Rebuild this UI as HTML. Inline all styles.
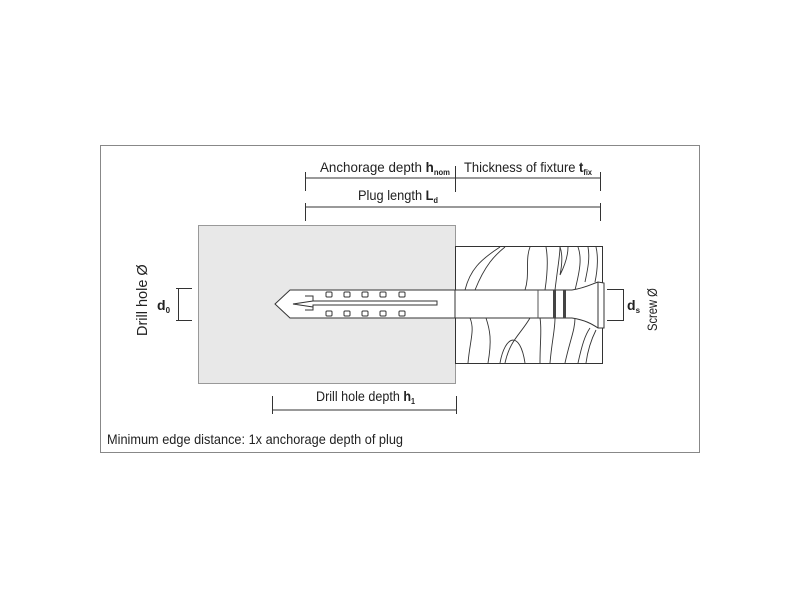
<!DOCTYPE html>
<html><head><style>
body{margin:0;background:#fff;width:800px;height:600px;overflow:hidden}
text{font-family:"Liberation Sans",sans-serif;fill:#222}
</style></head><body>
<svg width="800" height="600" viewBox="0 0 800 600" xmlns="http://www.w3.org/2000/svg">
<rect x="100.5" y="145.5" width="599" height="307" fill="#fff" stroke="#888" stroke-width="1"/>
<rect x="198.5" y="225.5" width="257" height="158" fill="#e8e8e8" stroke="#999"/>
<rect x="455.5" y="246.5" width="147" height="117" fill="#fff" stroke="#333"/>
<g fill="none" stroke="#333" stroke-width="0.9">
<path d="M465 290 C470 270 480 260 500 247"/>
<path d="M475 290 C485 265 495 255 505 247"/>
<path d="M525 290 C530 275 525 260 530 247"/>
<path d="M545 290 C548 270 548 258 546 247"/>
<path d="M555 290 C558 265 560 255 560 247"/>
<path d="M560 275 C562 265 563 255 560 247 M560 275 C565 265 568 255 568 247"/>
<path d="M575 290 C580 270 582 258 578 247"/>
<path d="M585 282 C588 268 590 258 588 247"/>
<path d="M595 282 C598 268 598 255 596 247"/>
<path d="M468 363 C470 340 475 330 470 318"/>
<path d="M488 363 C492 340 490 330 486 318"/>
<path d="M500 363 C505 335 520 330 525 363"/>
<path d="M505 363 C510 340 520 335 530 318"/>
<path d="M540 363 C540 340 542 330 540 318"/>
<path d="M550 363 C552 340 555 330 555 318"/>
<path d="M565 363 C570 340 575 330 575 318"/>
<path d="M578 363 C582 345 585 335 590 328"/>
<path d="M586 363 C588 348 592 338 596 330"/>
</g>
<path d="M455 290 L318 290 L305 290 L290 290 L275 304 L290 318 L455 318" fill="#fff" stroke="#333" stroke-width="1"/>
<rect x="455" y="290" width="143" height="28" fill="#fff" stroke="#333"/>
<line x1="538" y1="290" x2="538" y2="318" stroke="#555"/>
<rect x="553" y="290" width="3" height="28" fill="#444"/>
<rect x="563" y="290" width="3" height="28" fill="#444"/>
<path d="M572 290 C585 288 592 284 598 282 L604 283 L604 328 L598 328 C592 324 585 320 572 318" fill="#fff" stroke="#333"/>
<line x1="598" y1="282" x2="598" y2="328" stroke="#333"/>
<path d="M305 296 L313 296 L313 301 L437 301 L437 305 L313 305 L313 310 L305 310 M313 301 L293 304 L313 307" fill="none" stroke="#333"/>
<g fill="#fff" stroke="#333">
<rect x="326" y="292" width="6" height="5" rx="1"/><rect x="344" y="292" width="6" height="5" rx="1"/><rect x="362" y="292" width="6" height="5" rx="1"/><rect x="380" y="292" width="6" height="5" rx="1"/><rect x="399" y="292" width="6" height="5" rx="1"/>
<rect x="326" y="311" width="6" height="5" rx="1"/><rect x="344" y="311" width="6" height="5" rx="1"/><rect x="362" y="311" width="6" height="5" rx="1"/><rect x="380" y="311" width="6" height="5" rx="1"/><rect x="399" y="311" width="6" height="5" rx="1"/>
</g>
<g stroke="#333" stroke-width="1" fill="none">
<line x1="305" y1="178" x2="600" y2="178"/><line x1="305.5" y1="172" x2="305.5" y2="191"/><line x1="455.5" y1="166" x2="455.5" y2="192"/><line x1="600.5" y1="172" x2="600.5" y2="191"/>
<line x1="305" y1="207" x2="600" y2="207"/><line x1="305.5" y1="203" x2="305.5" y2="221"/><line x1="600.5" y1="203" x2="600.5" y2="221"/>
<line x1="272" y1="410" x2="456" y2="410"/><line x1="272.5" y1="396" x2="272.5" y2="414"/><line x1="456.5" y1="396" x2="456.5" y2="414"/>
<line x1="176" y1="288.5" x2="192" y2="288.5"/><line x1="176" y1="320.5" x2="192" y2="320.5"/><line x1="178.5" y1="288" x2="178.5" y2="320"/>
<line x1="607" y1="289.5" x2="624" y2="289.5"/><line x1="607" y1="320.5" x2="624" y2="320.5"/><line x1="623.5" y1="289" x2="623.5" y2="320"/>
</g>
<text x="320" y="172" font-size="14" textLength="130" lengthAdjust="spacingAndGlyphs">Anchorage depth <tspan font-weight="bold">h</tspan><tspan font-size="8" dy="3" font-weight="bold">nom</tspan></text>
<text x="464" y="172" font-size="14" textLength="128" lengthAdjust="spacingAndGlyphs">Thickness of fixture <tspan font-weight="bold">t</tspan><tspan font-size="8" dy="3" font-weight="bold">fix</tspan></text>
<text x="358" y="200" font-size="14" textLength="80" lengthAdjust="spacingAndGlyphs">Plug length <tspan font-weight="bold">L</tspan><tspan font-size="8" dy="3" font-weight="bold">d</tspan></text>
<text x="316" y="401" font-size="14" textLength="99" lengthAdjust="spacingAndGlyphs">Drill hole depth <tspan font-weight="bold">h</tspan><tspan font-size="8" dy="3" font-weight="bold">1</tspan></text>
<text x="107" y="444" font-size="14" textLength="296" lengthAdjust="spacingAndGlyphs">Minimum edge distance: 1x anchorage depth of plug</text>
<text x="157" y="310" font-size="14" font-weight="bold">d<tspan font-size="8" dy="3">0</tspan></text>
<text x="627" y="310" font-size="14" font-weight="bold">d<tspan font-size="8" dy="3">s</tspan></text>
<text transform="translate(147,336) rotate(-90)" font-size="14.5">Drill hole Ø</text>
<text transform="translate(657,331) rotate(-90) scale(0.8,1)" font-size="14">Screw Ø</text>
</svg>
</body></html>
